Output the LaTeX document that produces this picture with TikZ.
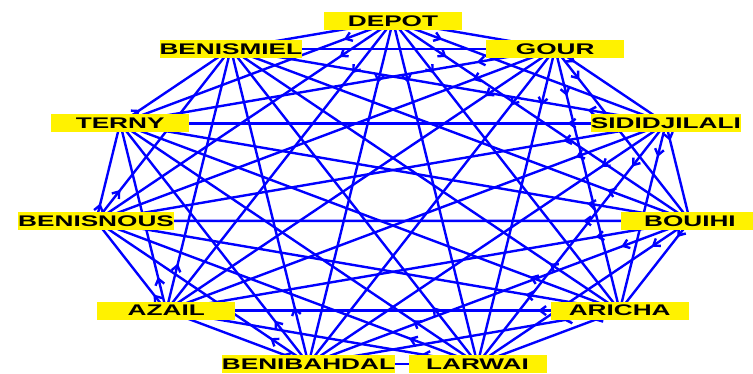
\documentclass[tikz,border=0pt]{standalone}
\usepackage{fontspec}
\newfontfamily\kotafont[FakeStretch=1.7]{Liberation Sans}
\usetikzlibrary{arrows.meta,decorations.markings,backgrounds}

\def\kotalist{depot,gour,sidi,bouihi,aricha,larwai,benibahdal,azail,benisnous,terny,benismiel}

\tikzset{
  kota/.style={fill=yellow, inner sep=0pt, minimum width=138pt, minimum height=18pt,
    font=\kotafont\bfseries\fontsize{15.4}{16}\selectfont},
  jalur/.style={blue, line width=2.4pt, postaction={decorate},
    decoration={markings, mark=at position 0.18 with {\arrow{Straight Barb[length=6pt,width=9pt]}}}}
}

\begin{document}
\begin{tikzpicture}[x=1pt,y=-1pt]
  \useasboundingbox (0,0) rectangle (753,373);

  % Kota pada elips
  \foreach \nama/\teks [count=\i from 0] in {depot/DEPOT, gour/GOUR, sidi/SIDIDJILALI,
      bouihi/BOUIHI, aricha/ARICHA, larwai/LARWAI, benibahdal/BENIBAHDAL, azail/AZAIL,
      benisnous/BENISNOUS, terny/TERNY, benismiel/BENISMIEL}
    \node[kota] (\nama) at ({393+300*cos(90-\i*360/11)}, {196-175*sin(90-\i*360/11)}) {\teks};

  % Jalur berarah, di bawah label
  \begin{scope}[on background layer]
    \foreach \a [count=\i] in \kotalist {
      \foreach \b [count=\j] in \kotalist {
        \ifnum\i<\j \draw[jalur] (\a.center) -- (\b.center); \fi
      }
    }
  \end{scope}
\end{tikzpicture}
\end{document}
